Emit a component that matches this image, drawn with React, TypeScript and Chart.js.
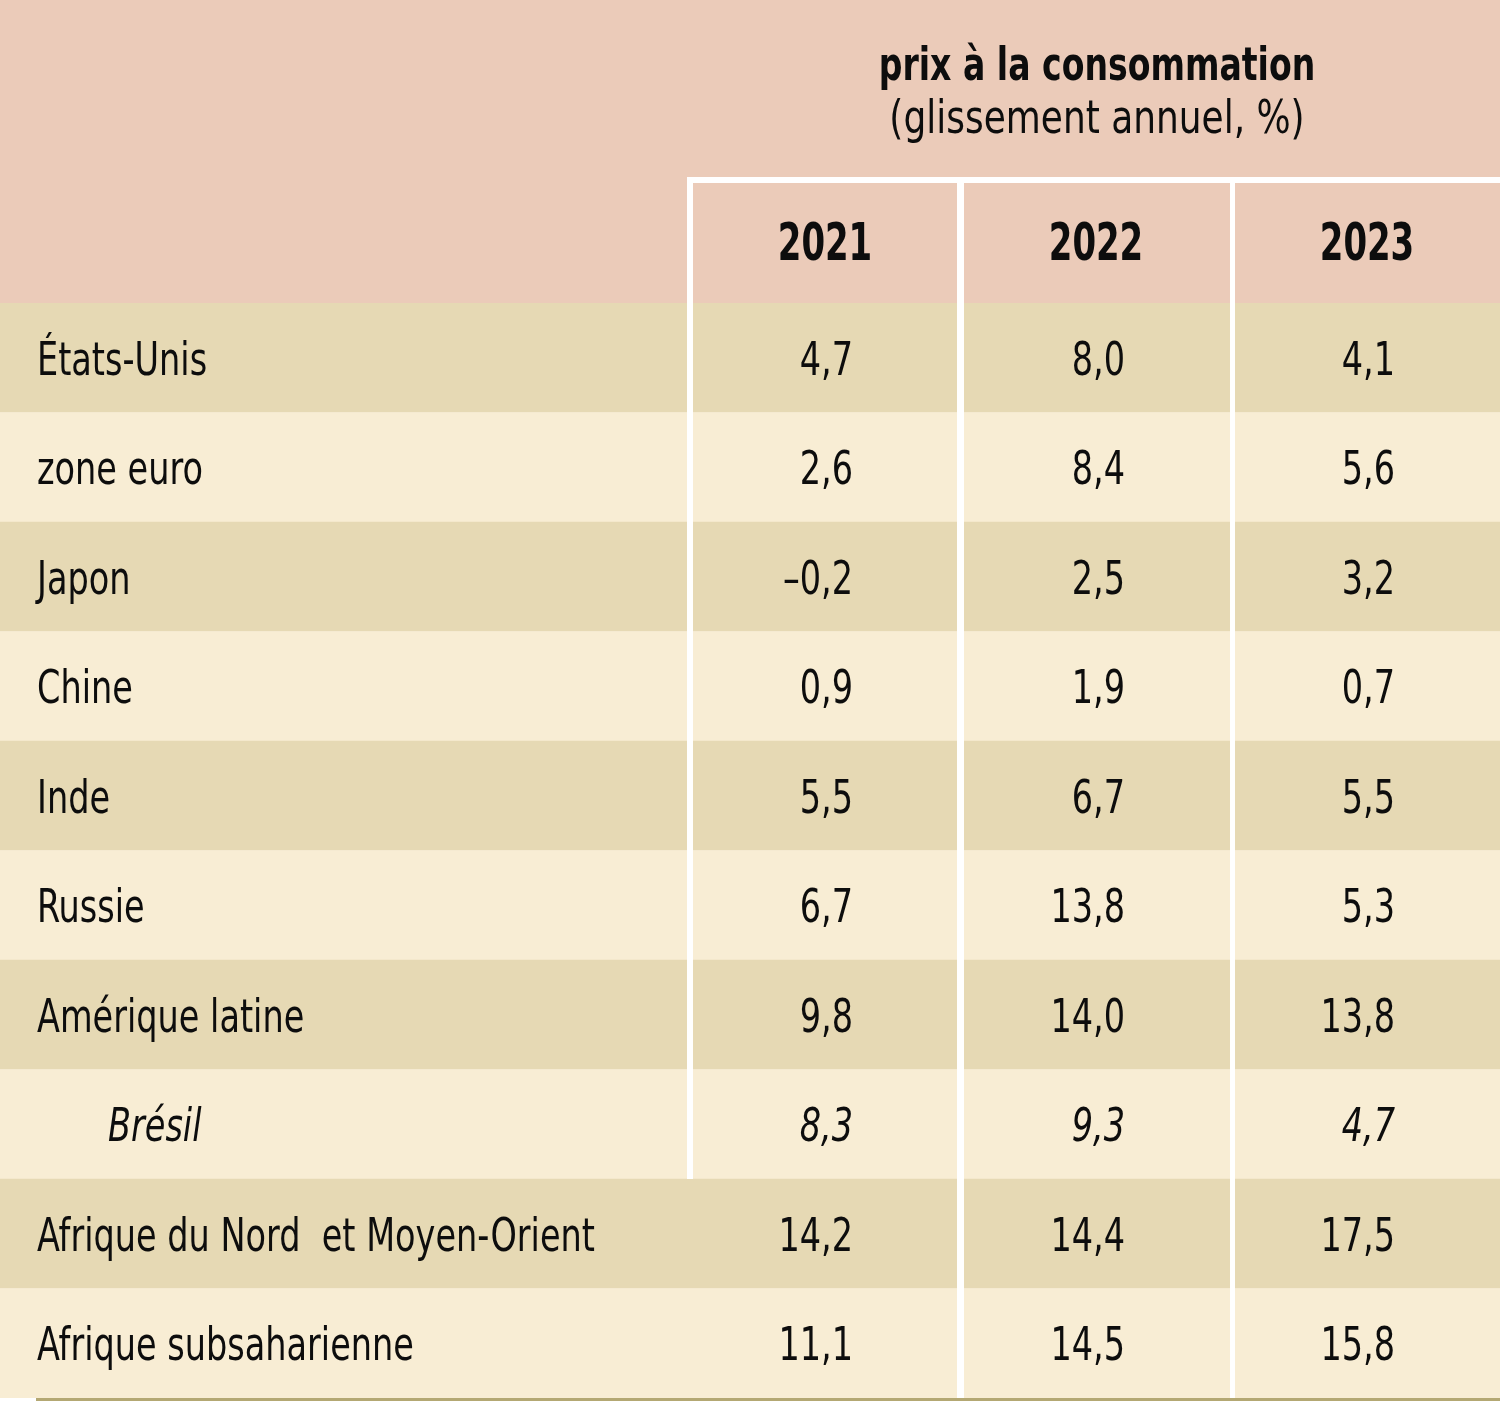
import React, { useEffect, useRef } from "react";
import { Chart, registerables } from "chart.js";

Chart.register(...registerables);

// ---- Data ----
const rowLabels = [
  "États-Unis",
  "zone euro",
  "Japon",
  "Chine",
  "Inde",
  "Russie",
  "Amérique latine",
  "Brésil",
  "Afrique du Nord  et Moyen-Orient",
  "Afrique subsaharienne",
];
const years = ["2021", "2022", "2023"];
const values2021 = [4.7, 2.6, -0.2, 0.9, 5.5, 6.7, 9.8, 8.3, 14.2, 11.1];
const values2022 = [8.0, 8.4, 2.5, 1.9, 6.7, 13.8, 14.0, 9.3, 14.4, 14.5];
const values2023 = [4.1, 5.6, 3.2, 0.7, 5.5, 5.3, 13.8, 4.7, 17.5, 15.8];
const italicRows = ["Brésil"];
const indentedRows = ["Brésil"];
const titleText = "prix à la consommation";
const subtitleText = "(glissement annuel, %)";

// ---- Styles / layout constants ----
const W = 1500;
const H = 1401;
const HEADER_H = 303;
const BOTTOM_PAD = 3;
const PINK = "#EBCBB9";
const DARK = "#E6D9B4";
const LIGHT = "#F8EDD4";
const FONT = '"DejaVu Sans Condensed", "Liberation Sans Narrow", sans-serif';
const SQ = 0.81; // horizontal squeeze to mimic a condensed face

const fmt = (v: number) => v.toFixed(1).replace(".", ",").replace("-", "\u2013");

function drawText(ctx: CanvasRenderingContext2D, text: string, x: number, y: number, align: CanvasTextAlign, sx: number) {
  ctx.save();
  ctx.translate(x, y);
  ctx.scale(sx, 1);
  ctx.textAlign = align;
  ctx.fillText(text, 0, 0);
  ctx.restore();
}

const tablePlugin = {
  id: "tablePlugin",
  beforeDraw(chart: any) {
    const { ctx, chartArea } = chart;
    ctx.save();
    ctx.fillStyle = PINK;
    ctx.fillRect(0, 0, chart.width, chartArea.top);
    ctx.restore();
  },
  afterDatasetsDraw(chart: any) {
    const { ctx } = chart;
    const x = chart.scales.x;
    const y = chart.scales.y;
    const px = (v: number) => x.getPixelForValue(v);
    const half = (y.getPixelForValue(1) - y.getPixelForValue(0)) / 2;
    const rowBottom = (i: number) => y.getPixelForValue(i) + half;
    const lastRow = rowLabels.length - 1;
    const bresilIdx = rowLabels.indexOf("Brésil");

    ctx.save();
    // white grid lines
    ctx.fillStyle = "#ffffff";
    ctx.fillRect(px(687), 177, px(1500) - px(687), 6);
    ctx.fillRect(px(687), 177, px(693) - px(687), rowBottom(bresilIdx) - 177);
    ctx.fillRect(px(957), 177, px(964) - px(957), rowBottom(lastRow) - 177);
    ctx.fillRect(px(1230), 177, px(1235) - px(1230), rowBottom(lastRow) - 177);

    // bottom rule
    ctx.fillStyle = "#B4A873";
    ctx.fillRect(px(36), rowBottom(lastRow), px(1500) - px(36), 3);

    // title
    ctx.fillStyle = "#0d0d0d";
    ctx.textBaseline = "alphabetic";
    ctx.font = `bold 46px ${FONT}`;
    drawText(ctx, titleText, px(1097), 80, "center", 0.8);
    ctx.font = `47px ${FONT}`;
    drawText(ctx, subtitleText, px(1097), 133, "center", 0.85);

    // years
    const yearCenters = [825, 1096, 1367];
    ctx.font = `bold 51px ${FONT}`;
    years.forEach((yr, k) => drawText(ctx, yr, px(yearCenters[k]), 260, "center", 0.74));

    // rows
    const cols = [values2021, values2022, values2023];
    const rightEdges = [853, 1125, 1395];
    rowLabels.forEach((lab, i) => {
      const italic = italicRows.includes(lab);
      const base = y.getPixelForValue(i) + 17;
      ctx.font = `${italic ? "italic " : ""}46px ${FONT}`;
      drawText(ctx, lab, px(indentedRows.includes(lab) ? 108 : 37), base, "left", SQ);
      cols.forEach((arr, k) => drawText(ctx, fmt(arr[i]), px(rightEdges[k]), base, "right", SQ));
    });
    ctx.restore();
  },
};

export default function App() {
  const ref = useRef<HTMLCanvasElement | null>(null);
  useEffect(() => {
    document.body.style.margin = "0";
    if (!ref.current) return;
    const chart = new Chart(ref.current, {
      type: "bar",
      data: {
        labels: rowLabels,
        datasets: [
          {
            data: rowLabels.map(() => [0, 1500]) as any,
            backgroundColor: rowLabels.map((_, i) => (i % 2 === 0 ? DARK : LIGHT)),
            borderWidth: 0,
            barPercentage: 1,
            categoryPercentage: 1,
          },
        ],
      },
      options: {
        indexAxis: "y",
        responsive: false,
        animation: false,
        layout: { padding: { top: HEADER_H, bottom: BOTTOM_PAD, left: 0, right: 0 } },
        scales: {
          x: { type: "linear", min: 0, max: 1500, display: false },
          y: { type: "category", display: false, offset: true },
        },
        plugins: { legend: { display: false }, tooltip: { enabled: false } },
      },
      plugins: [tablePlugin],
    });
    return () => chart.destroy();
  }, []);
  return (
    <div style={{ width: W, height: H }}>
      <canvas ref={ref} width={W} height={H} style={{ width: W, height: H, display: "block" }} />
    </div>
  );
}
